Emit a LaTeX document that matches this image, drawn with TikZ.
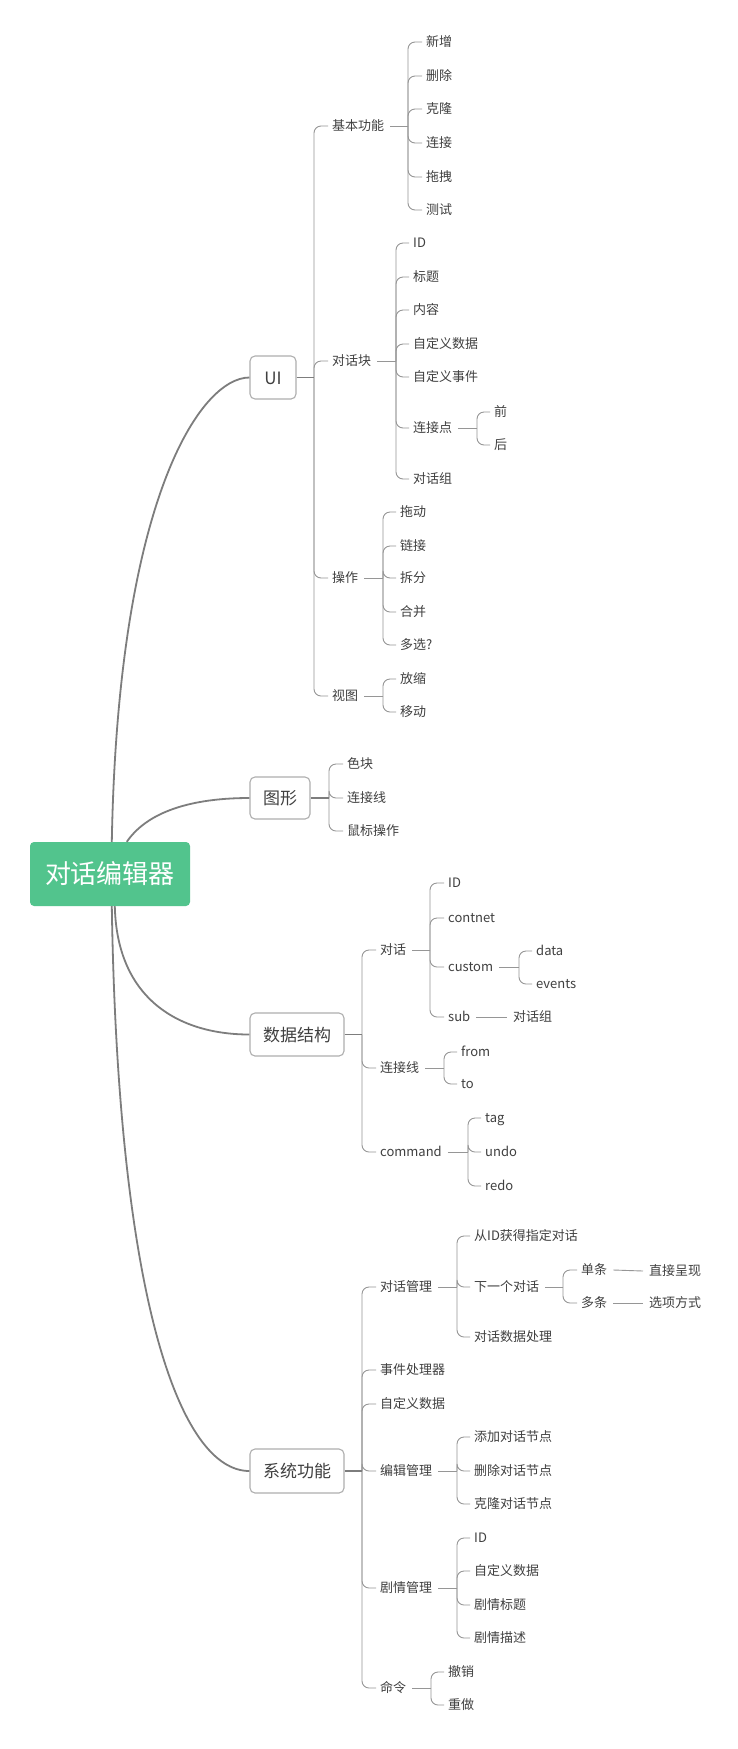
\documentclass[tikz,border=0pt]{standalone}
\usepackage{fontspec}
\setmainfont{Noto Sans CJK SC}
\usetikzlibrary{calc}
\definecolor{txt}{RGB}{64,64,64}
\definecolor{lnc}{RGB}{150,150,150}
\definecolor{mainln}{RGB}{125,125,125}
\definecolor{boxln}{RGB}{175,175,175}
\definecolor{rootg}{RGB}{82,196,141}
\tikzset{
 leaf/.style={anchor=west, inner sep=0pt, text=txt, font=\fontsize{13}{15}\selectfont, text height=11.4pt, text depth=1.6pt},
 topic/.style={draw=boxln, line width=1.1pt, rounded corners=5pt, fill=white, text=txt, font=\fontsize{17}{20}\selectfont, inner sep=0pt, text height=15pt, text depth=2pt},
 rootbox/.style={fill=rootg, rounded corners=4pt, text=white, font=\fontsize{26}{30}\selectfont, inner sep=0pt, minimum width=160pt, minimum height=64pt},
 br/.style={draw=lnc, line width=0.9pt, rounded corners=7pt},
 mainc/.style={draw=mainln, line width=1.8pt},
 stub/.style={draw=mainln, line width=1.4pt},
}
\newcommand\mmfork[4][6pt]{%
  \path let \p1=(#2.east) in coordinate (#2-j) at (#3pt,\y1);
  \draw[br] ([xshift=#1]#2.east) -- (#2-j);
  \foreach \c in {#4} {\draw[br] (#2-j) |- ([xshift=-4pt]\c.west);}
}
\newcommand\mmline[2]{\draw[br] ([xshift=6pt]#1.east) -- ([xshift=-6pt]#2.west);}
\begin{document}
\begin{tikzpicture}[x=1pt,y=-1pt]
\useasboundingbox (0,0) rectangle (737,1749);
\fill[white] (0,0) rectangle (737,1749);

% root and main topics
\node[rootbox] (r) at (110,874) {对话编辑器};
\node[topic, minimum width=46pt, minimum height=43pt] (ui) at (273,377.5) {UI};
\node[topic, minimum width=60pt, minimum height=42pt] (tx) at (280,798) {图形};
\node[topic, minimum width=94pt, minimum height=43pt] (ds) at (297,1034.5) {数据结构};
\node[topic, minimum width=94pt, minimum height=44pt] (sy) at (297,1471) {系统功能};

\draw[mainc] ($(r.north west)+(82,0)$) .. controls (118,500) and (200,377.5) .. (ui.west);
\draw[mainc] ($(r.north west)+(97,0)$) .. controls (150,808) and (200,798) .. (tx.west);
\draw[mainc] ($(r.south west)+(85,0)$) .. controls (117,1000) and (180,1034.5) .. (ds.west);
\draw[mainc] ($(r.south west)+(82,0)$) .. controls (118,1300) and (180,1471) .. (sy.west);

% ---------- UI ----------
\node[leaf] (jb) at (332,126) {基本功能};
\node[leaf] (dk) at (332,361) {对话块};
\node[leaf] (cz) at (332,578) {操作};
\node[leaf] (st) at (332,696) {视图};
\mmfork[0pt]{ui}{314}{jb,dk,cz,st}
\draw[stub] (ui.east) -- (ui-j);

\node[leaf] (jb1) at (426,42) {新增};
\node[leaf] (jb2) at (426,76) {删除};
\node[leaf] (jb3) at (426,109) {克隆};
\node[leaf] (jb4) at (426,143) {连接};
\node[leaf] (jb5) at (426,177) {拖拽};
\node[leaf] (jb6) at (426,210) {测试};
\mmfork{jb}{408}{jb1,jb2,jb3,jb4,jb5,jb6}

\node[leaf] (dk1) at (413,243) {ID};
\node[leaf] (dk2) at (413,277) {标题};
\node[leaf] (dk3) at (413,310) {内容};
\node[leaf] (dk4) at (413,344) {自定义数据};
\node[leaf] (dk5) at (413,377) {自定义事件};
\node[leaf] (dk6) at (413,428) {连接点};
\node[leaf] (dk7) at (413,479) {对话组};
\mmfork{dk}{396}{dk1,dk2,dk3,dk4,dk5,dk6,dk7}

\node[leaf] (lq) at (494,412) {前};
\node[leaf] (lh) at (494,445) {后};
\mmfork{dk6}{477}{lq,lh}

\node[leaf] (cz1) at (400,512) {拖动};
\node[leaf] (cz2) at (400,546) {链接};
\node[leaf] (cz3) at (400,578) {拆分};
\node[leaf] (cz4) at (400,612) {合并};
\node[leaf] (cz5) at (400,645) {多选?};
\mmfork{cz}{383}{cz1,cz2,cz3,cz4,cz5}

\node[leaf] (st1) at (400,679) {放缩};
\node[leaf] (st2) at (400,712) {移动};
\mmfork{st}{383}{st1,st2}

% ---------- 图形 ----------
\node[leaf] (tx1) at (347,764) {色块};
\node[leaf] (tx2) at (347,798) {连接线};
\node[leaf] (tx3) at (347,831) {鼠标操作};
\mmfork[0pt]{tx}{329}{tx1,tx2,tx3}
\draw[stub] (tx.east) -- (tx-j);

% ---------- 数据结构 ----------
\node[leaf] (d1) at (380,950) {对话};
\node[leaf] (d2) at (380,1068) {连接线};
\node[leaf] (d3) at (380,1152) {command};
\mmfork[0pt]{ds}{362}{d1,d2,d3}
\draw[stub] (ds.east) -- (ds-j);

\node[leaf] (d11) at (448,883) {ID};
\node[leaf] (d12) at (448,918) {contnet};
\node[leaf] (d13) at (448,967) {custom};
\node[leaf] (d14) at (448,1017) {sub};
\mmfork{d1}{430}{d11,d12,d13,d14}

\node[leaf] (d131) at (536,951) {data};
\node[leaf] (d132) at (536,984) {events};
\mmfork{d13}{519}{d131,d132}

\node[leaf] (d141) at (513,1017) {对话组};
\mmline{d14}{d141}

\node[leaf] (d21) at (461,1052) {from};
\node[leaf] (d22) at (461,1084) {to};
\mmfork{d2}{444}{d21,d22}

\node[leaf] (d31) at (485,1118) {tag};
\node[leaf] (d32) at (485,1152) {undo};
\node[leaf] (d33) at (485,1186) {redo};
\mmfork{d3}{468}{d31,d32,d33}

% ---------- 系统功能 ----------
\node[leaf] (s1) at (380,1287) {对话管理};
\node[leaf] (s2) at (380,1370) {事件处理器};
\node[leaf] (s3) at (380,1404) {自定义数据};
\node[leaf] (s4) at (380,1471) {编辑管理};
\node[leaf] (s5) at (380,1588) {剧情管理};
\node[leaf] (s6) at (380,1688) {命令};
\mmfork[0pt]{sy}{362}{s1,s2,s3,s4,s5,s6}
\draw[stub] (sy.east) -- (sy-j);

\node[leaf] (s11) at (474,1236) {从ID获得指定对话};
\node[leaf] (s12) at (474,1287) {下一个对话};
\node[leaf] (s13) at (474,1337) {对话数据处理};
\mmfork{s1}{457}{s11,s12,s13}

\node[leaf] (s121) at (581,1270) {单条};
\node[leaf] (s122) at (581,1303) {多条};
\mmfork{s12}{563}{s121,s122}
\node[leaf] (s1211) at (649,1271) {直接呈现};
\node[leaf] (s1221) at (649,1303) {选项方式};
\mmline{s121}{s1211}
\mmline{s122}{s1221}

\node[leaf] (s41) at (474,1437) {添加对话节点};
\node[leaf] (s42) at (474,1471) {删除对话节点};
\node[leaf] (s43) at (474,1504) {克隆对话节点};
\mmfork{s4}{457}{s41,s42,s43}

\node[leaf] (s51) at (474,1538) {ID};
\node[leaf] (s52) at (474,1571) {自定义数据};
\node[leaf] (s53) at (474,1605) {剧情标题};
\node[leaf] (s54) at (474,1638) {剧情描述};
\mmfork{s5}{457}{s51,s52,s53,s54}

\node[leaf] (s61) at (448,1672) {撤销};
\node[leaf] (s62) at (448,1705) {重做};
\mmfork{s6}{431}{s61,s62}
\end{tikzpicture}
\end{document}
